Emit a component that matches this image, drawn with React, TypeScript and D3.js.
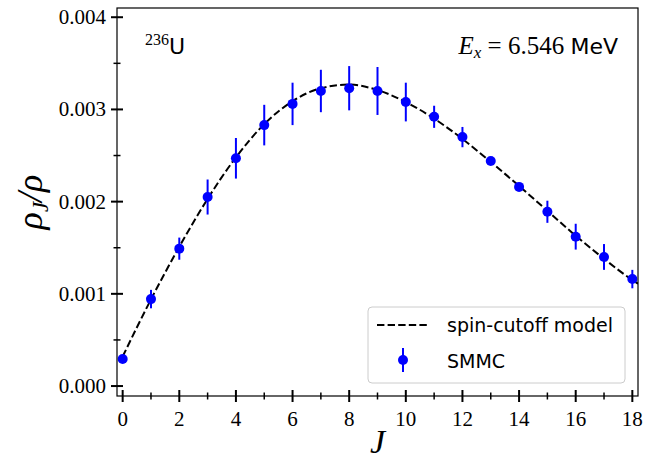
import React from "react";
import * as d3 from "d3";

const J = [0, 1, 2, 3, 4, 5, 6, 7, 8, 9, 10, 11, 12, 13, 14, 15, 16, 17, 18];
const smmc = [0.000293, 0.000943, 0.00149, 0.00205, 0.00247, 0.00283, 0.00306, 0.0032, 0.00323, 0.0032, 0.00308, 0.00292, 0.0027, 0.00244, 0.00216, 0.00189, 0.00162, 0.0014, 0.00116];
const smmcErr = [0.00002, 0.0001, 0.00012, 0.00019, 0.00022, 0.00022, 0.00023, 0.00023, 0.00024, 0.00026, 0.00021, 0.00012, 0.00011, 0.00003, 0.00003, 0.00012, 0.00014, 0.00014, 0.0001];
const modelJ = [0, 1, 2, 3, 4, 5, 6, 7, 8, 9, 10, 11, 12, 13, 14, 15, 16, 17, 18, 18.2];
const modelVal = [0.00032, 0.00094, 0.00151, 0.00203, 0.00248, 0.00284, 0.00309, 0.00323, 0.00327, 0.00321, 0.00308, 0.0029, 0.00268, 0.00243, 0.00217, 0.0019, 0.00163, 0.00138, 0.00115, 0.00111];
const xTicksMajor = [0, 2, 4, 6, 8, 10, 12, 14, 16, 18];
const xTicksMinor = [1, 3, 5, 7, 9, 11, 13, 15, 17];
const yTicksMajor = [0, 0.001, 0.002, 0.003, 0.004];
const yTickLabels = ["0.000", "0.001", "0.002", "0.003", "0.004"];
const yTicksMinor = [0.0005, 0.0015, 0.0025, 0.0035];

const W = 657, H = 460;
const L = 117, R = 638, T = 8, B = 396;

export default function App() {
  const x = d3.scaleLinear().domain([-0.2, 18.2]).range([L, R]);
  const y = d3.scaleLinear().domain([-0.000108, 0.0041]).range([B, T]);
  const line = d3.line<number>().x((_, i) => x(modelJ[i])).y((d) => y(d)).curve(d3.curveMonotoneX);
  const serif = "'Liberation Serif', 'DejaVu Serif', serif";
  const sans = "'DejaVu Sans', sans-serif";
  const blue = "#0000ff";
  return (
    <svg width={W} height={H} style={{ position: "absolute", left: 0, top: 0, background: "#fff" }}>
      <rect x={0} y={0} width={W} height={H} fill="#fff" />
      <defs>
        <clipPath id="clip">
          <rect x={L} y={T} width={R - L} height={B - T} />
        </clipPath>
      </defs>
      <g clipPath="url(#clip)">
        <path d={line(modelVal) || ""} fill="none" stroke="#000" strokeWidth={2} strokeDasharray="7.4,3.2" />
        {J.map((j, i) => (
          <line key={"e" + i} x1={x(j)} x2={x(j)} y1={y(smmc[i] - smmcErr[i])} y2={y(smmc[i] + smmcErr[i])} stroke={blue} strokeWidth={2} />
        ))}
        {J.map((j, i) => (
          <circle key={"c" + i} cx={x(j)} cy={y(smmc[i])} r={5} fill={blue} />
        ))}
      </g>
      <rect x={L} y={T} width={R - L} height={B - T} fill="none" stroke="#000" strokeWidth={1.2} />
      {xTicksMajor.map((t) => (
        <g key={"xt" + t}>
          <line x1={x(t)} x2={x(t)} y1={B - 6} y2={B + 6} stroke="#000" strokeWidth={2} />
          <text x={x(t)} y={426} textAnchor="middle" fontFamily={serif} fontSize={21}>{t}</text>
        </g>
      ))}
      {xTicksMinor.map((t) => (
        <line key={"xm" + t} x1={x(t)} x2={x(t)} y1={B - 3.5} y2={B + 3.5} stroke="#000" strokeWidth={1.5} />
      ))}
      {yTicksMajor.map((t, i) => (
        <g key={"yt" + t}>
          <line x1={L - 6} x2={L + 6} y1={y(t)} y2={y(t)} stroke="#000" strokeWidth={2} />
          <text x={106} y={y(t) + 7} textAnchor="end" fontFamily={serif} fontSize={21}>{yTickLabels[i]}</text>
        </g>
      ))}
      {yTicksMinor.map((t) => (
        <line key={"ym" + t} x1={L - 3.5} x2={L + 3.5} y1={y(t)} y2={y(t)} stroke="#000" strokeWidth={1.5} />
      ))}
      <text x={(L + R) / 2} y={453} textAnchor="middle" fontFamily={serif} fontStyle="italic" fontSize={34}>J</text>
      <text transform={`translate(42,${(T + B) / 2}) rotate(-90)`} textAnchor="middle" fontFamily={serif} fontStyle="italic" fontSize={36}>
        ρ<tspan fontSize={23} dy={6}>J</tspan><tspan dy={-6}>/ρ</tspan>
      </text>
      <text x={145} y={54} fontFamily={serif} >
        <tspan fontSize={16} dy={-9}>236</tspan><tspan fontFamily={sans} fontSize={22} dy={9}>U</tspan>
      </text>
      <text x={618} y={54} textAnchor="end" fontFamily={serif} fontSize={25}>
        <tspan fontStyle="italic">E</tspan><tspan fontStyle="italic" fontSize={17} dy={4}>x</tspan><tspan dy={-4}> = 6.546 </tspan><tspan fontFamily={sans} fontSize={22}>MeV</tspan>
      </text>
      <rect x={368} y={307} width={257} height={76} rx={4} fill="#fff" fillOpacity={0.8} stroke="#cccccc" strokeWidth={1} />
      <line x1={377} x2={428} y1={325} y2={325} stroke="#000" strokeWidth={2} strokeDasharray="7.4,3.2" />
      <text x={447} y={332} fontFamily={sans} fontSize={19}>spin-cutoff model</text>
      <line x1={403} x2={403} y1={348} y2={372} stroke={blue} strokeWidth={2} />
      <circle cx={403} cy={360} r={5} fill={blue} />
      <text x={447} y={368} fontFamily={sans} fontSize={19}>SMMC</text>
    </svg>
  );
}
